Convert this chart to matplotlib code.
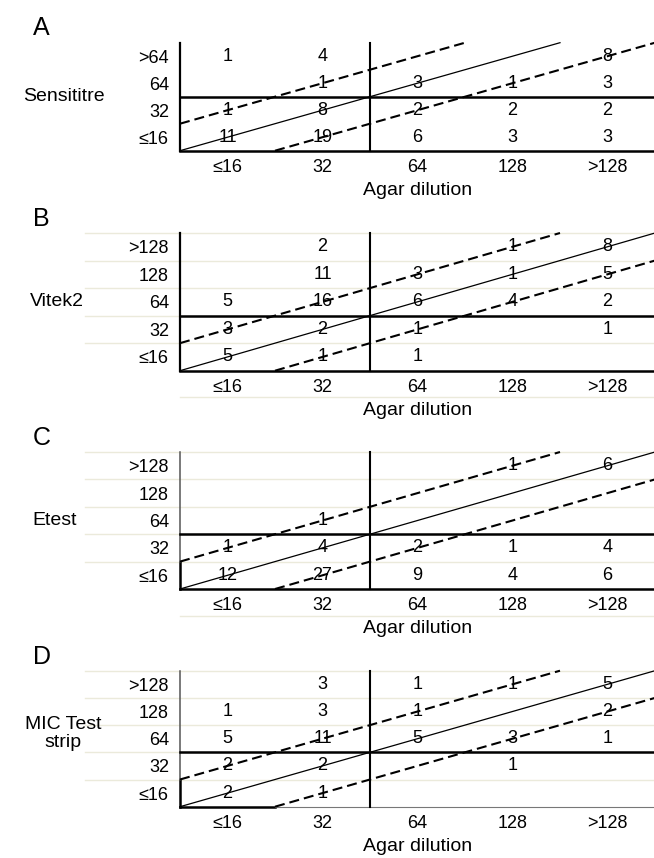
import numpy as np
import matplotlib
matplotlib.use("Agg")
import matplotlib.pyplot as plt

plt.rcParams['font.family'] = ['Liberation Sans', 'DejaVu Sans']

# category labels
x_labels = ["≤16", "32", "64", "128", ">128"]
y_labels_a = [">64", "64", "32", "≤16"]
y_labels_bcd = [">128", "128", "64", "32", "≤16"]

# counts, rows listed top to bottom, columns ≤16 .. >128 (0 = empty cell)
counts_a = [[1, 4, 0, 0, 8],
            [0, 1, 3, 1, 3],
            [1, 8, 2, 2, 2],
            [11, 19, 6, 3, 3]]
counts_b = [[0, 2, 0, 1, 8],
            [0, 11, 3, 1, 5],
            [5, 16, 6, 4, 2],
            [3, 2, 1, 0, 1],
            [5, 1, 1, 0, 0]]
counts_c = [[0, 0, 0, 1, 6],
            [0, 0, 0, 0, 0],
            [0, 1, 0, 0, 0],
            [1, 4, 2, 1, 4],
            [12, 27, 9, 4, 6]]
counts_d = [[0, 3, 1, 1, 5],
            [1, 3, 1, 0, 2],
            [5, 11, 5, 3, 1],
            [2, 2, 0, 1, 0],
            [2, 1, 0, 0, 0]]

panels = ["A", "B", "C", "D"]
methods = ["Sensititre", "Vitek2", "Etest", "MIC Test\nstrip"]

W, H = 654, 858
fig = plt.figure(figsize=(W / 100, H / 100), dpi=100)

# pixel layout: (top, bottom) of each grid, label position
boxes = [(42.7, 150.7), (233.0, 370.7), (452.0, 589.0), (670.7, 806.7)]
letter_y = [28, 219, 438, 657]
method_pos = [(64, 2.0), (57, 2.5), (55, 2.5), (63, 2.7)]
faint = [False, True, True, False]

left_px, right_px = 180, 655
faint_col = "#ebeadb"


def fy(p):
    return 1 - p / H


for i, counts in enumerate([counts_a, counts_b, counts_c, counts_d]):
    top, bot = boxes[i]
    counts = np.array(counts)
    nrow = counts.shape[0]
    ylabs = y_labels_a if nrow == 4 else y_labels_bcd
    ax = fig.add_axes([left_px / W, fy(bot), (right_px - left_px) / W, (bot - top) / H])
    ax.set_xlim(0, 5)
    ax.set_ylim(0, nrow)
    for s in ax.spines.values():
        s.set_visible(False)
    ax.set_xticks(np.arange(5) + 0.5, x_labels)
    ax.set_yticks(np.arange(nrow) + 0.5, ylabs[::-1])
    ax.tick_params(length=0, labelsize=13)
    ax.tick_params(axis='x', pad=6)
    ax.tick_params(axis='y', pad=8)
    ax.set_xlabel("Agar dilution", fontsize=14, labelpad=4)

    if i > 0:
        for k in range(1, nrow + 1):
            ax.plot([-1, 5], [k, k], color=faint_col, lw=1, zorder=0, clip_on=False)
    if faint[i]:
        ax.plot([0, 5], [-0.97, -0.97], color=faint_col, lw=1, zorder=0, clip_on=False)

    # frame lines
    if i == 3:
        ax.plot([0, 1], [0, 0], color="black", lw=1.8, clip_on=False)
        ax.plot([1, 5], [0, 0], color="#777777", lw=0.8, clip_on=False)
    else:
        ax.plot([0, 5], [0, 0], color="black", lw=1.8, clip_on=False)
    if i >= 2:
        ax.plot([0, 0], [0, 1], color="black", lw=1.8, clip_on=False)
        ax.plot([0, 0], [1, nrow], color="#555555", lw=1.1, clip_on=False)
    else:
        ax.plot([0, 0], [0, nrow], color="black", lw=1.6, clip_on=False)
    ax.plot([2, 2], [0, nrow], color="black", lw=1.5, clip_on=False)
    ax.plot([0, 5], [2, 2], color="black", lw=1.8, clip_on=False)

    # agreement lines
    xe = min(nrow, 5)
    ax.plot([0, xe], [0, xe], color="black", lw=0.9, clip_on=False)
    ax.plot([0, nrow - 1], [1, nrow], color="black", lw=1.5,
            ls=(0, (4.8, 2.4)), clip_on=False)
    ax.plot([1, 5], [0, 4], color="black", lw=1.5,
            ls=(0, (4.8, 2.4)), clip_on=False)

    for r in range(nrow):
        for c in range(5):
            v = counts[r, c]
            if v:
                ax.text(c + 0.5, nrow - r - 0.5, str(v), ha="center", va="center",
                        fontsize=13)

    fig.text(33 / W, fy(letter_y[i]), panels[i], fontsize=18, ha="left", va="center")
    mx, my = method_pos[i]
    fig.text(mx / W, fy(bot - my * (bot - top) / nrow), methods[i], fontsize=14,
             ha="center", va="center", linespacing=1.1)

fig.savefig("out.png", dpi=100)
